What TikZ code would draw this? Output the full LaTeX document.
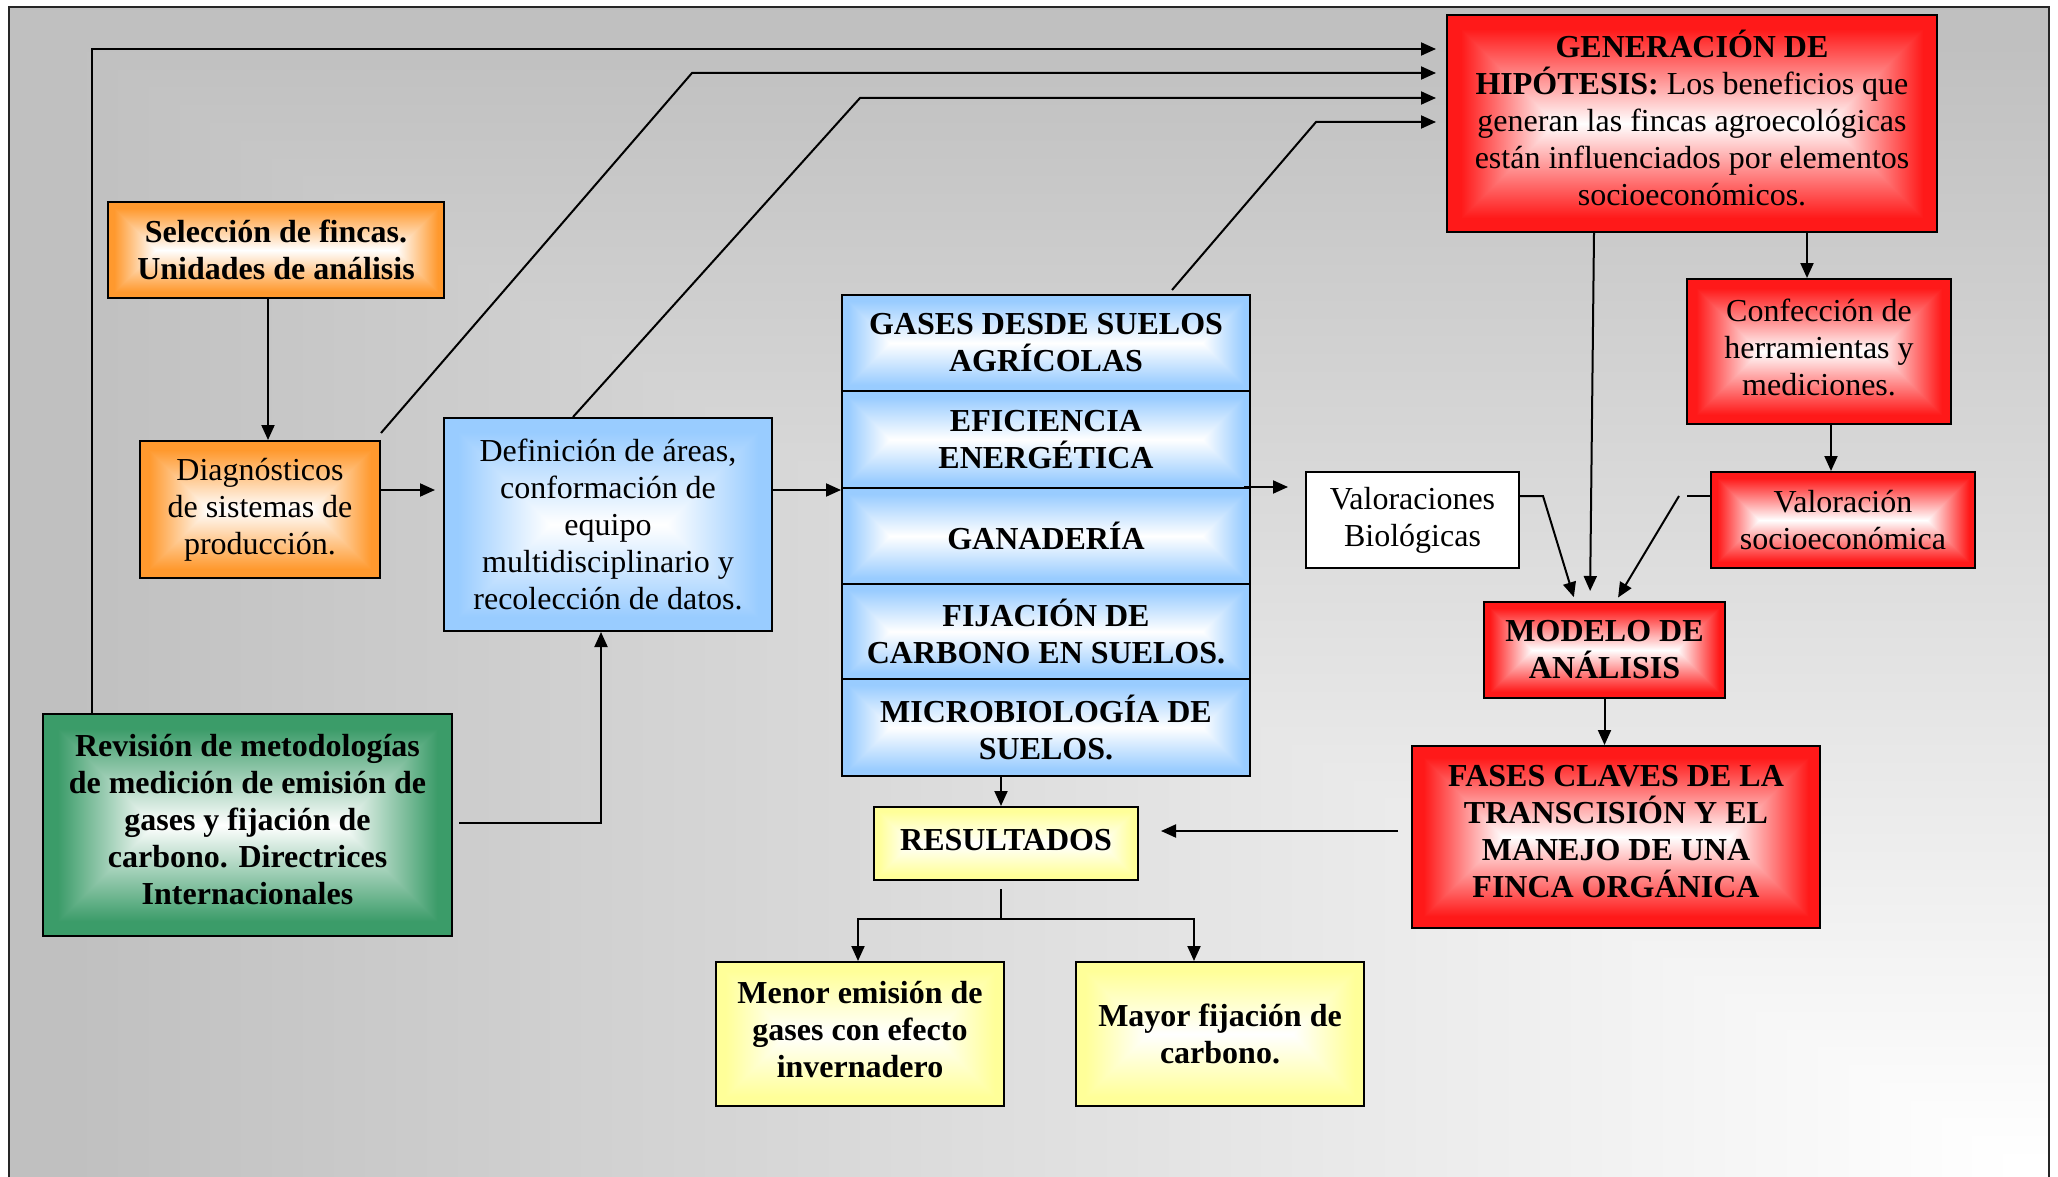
\documentclass[tikz,border=0pt]{standalone}
\usepackage{fontspec}
\setmainfont{Liberation Serif}
\usetikzlibrary{arrows.meta,calc}

% rectangular "from centre" gradient: white centre -> colour at the edges
% #1 name, #2 aspect (w/h), #3..#5 = 1-R, 1-G, 1-B
\newcommand\mkshade[5]{%
  \pgfdeclarefunctionalshading{#1}{\pgfpoint{-50bp}{-50bp}}{\pgfpoint{50bp}{50bp}}{}{%
    25 div abs 1 exch sub exch 25 div abs 1 exch sub #2 mul
    2 copy gt {exch} if pop
    1 exch sub 1.15 mul
    dup 0 lt {pop 0} if dup 1 gt {pop 1} if
    dup #3 mul 1 exch sub
    exch dup #4 mul 1 exch sub
    exch #5 mul 1 exch sub
  }}
\mkshade{shSel}{3.5}{0}{0.4}{0.82}
\mkshade{shDiag}{1.75}{0}{0.4}{0.82}
\mkshade{shDefi}{1.54}{0.4}{0.2}{0}
\mkshade{shRow}{4.25}{0.4}{0.2}{0}
\mkshade{shRes}{3.62}{0}{0}{0.4}
\mkshade{shOut}{2}{0}{0}{0.4}
\mkshade{shRev}{1.84}{0.77}{0.39}{0.59}
\mkshade{shGen}{2.26}{0}{0.9}{0.9}
\mkshade{shConf}{1.82}{0}{0.9}{0.9}
\mkshade{shVals}{2.75}{0}{0.9}{0.9}
\mkshade{shMod}{2.51}{0}{0.9}{0.9}
\mkshade{shFases}{2.24}{0}{0.9}{0.9}

% background: rectangular gradient from the bottom-right corner (white) to grey
\pgfdeclarefunctionalshading{bgshade}{\pgfpoint{-50bp}{-50bp}}{\pgfpoint{50bp}{50bp}}{}{%
  25 div 1 add 2 div exch 25 div 1 exch sub 2 div
  2 copy lt {exch} if pop
  66 mul 256 exch sub 255 div
  dup 0.753 lt {pop 0.753} if dup 1 gt {pop 1} if
  dup dup
}

\tikzset{
  box/.style={draw=black, line width=2pt, inner sep=0pt, align=center,
    font=\fontsize{32}{37}\selectfont},
  bold/.style={font=\fontsize{32}{37}\selectfont\bfseries},
  sh/.style={shade, shading=#1},
  arr/.style={line width=2pt, -{Triangle[length=15pt,width=13pt]}},
  ln/.style={line width=2pt},
}

\begin{document}
\begin{tikzpicture}[x=1pt,y=-1pt]
\useasboundingbox (0,0) rectangle (2058,1177);
\clip (0,0) rectangle (2058,1177);
\fill[white] (0,0) rectangle (2058,1177);
\shade[shading=bgshade] (9,7) rectangle (2049,1180);
\draw[line width=2pt, black!85] (9,1190) -- (9,7) -- (2049,7) -- (2049,1190);

% ---------- nodes ----------
\node[box, sh=shSel, bold, minimum width=336pt, minimum height=96pt] (sel) at (276,250)
  {Selección de fincas.\\Unidades de análisis};
\node[box, sh=shDiag, minimum width=240pt, minimum height=137pt] (diag) at (260,509.5)
  {Diagnósticos\\de sistemas de\\producción.};
\node[box, sh=shDefi, minimum width=328pt, minimum height=213pt] (defi) at (608,524.5)
  {Definición de áreas,\\conformación de\\equipo\\multidisciplinario y\\recolección de datos.};

\node[box, sh=shRow, bold, minimum width=408pt, minimum height=96pt] (r1) at (1046,343)
  {GASES DESDE SUELOS\\AGRÍCOLAS};
\node[box, sh=shRow, bold, minimum width=408pt, minimum height=97pt] (r2) at (1046,439.5)
  {EFICIENCIA\\ENERGÉTICA};
\node[box, sh=shRow, bold, minimum width=408pt, minimum height=96pt] (r3) at (1046,536)
  {GANADERÍA};
\node[box, sh=shRow, bold, minimum width=408pt, minimum height=95pt] (r4) at (1046,631.5)
  {FIJACIÓN DE\\CARBONO EN SUELOS.};
\node[box, sh=shRow, bold, minimum width=408pt, minimum height=97pt] (r5) at (1046,727.5)
  {MICROBIOLOGÍA DE\\SUELOS.};

\node[box, sh=shRes, bold, text depth=8pt, minimum width=264pt, minimum height=73pt] (res) at (1006,843.5)
  {RESULTADOS};
\node[box, sh=shOut, bold, text depth=10pt, minimum width=288pt, minimum height=144pt] (menor) at (860,1034)
  {Menor emisión de\\gases con efecto\\invernadero};
\node[box, sh=shOut, bold, minimum width=288pt, minimum height=144pt] (mayor) at (1220,1034)
  {Mayor fijación de\\carbono.};

\node[box, sh=shRev, bold, text depth=12pt, minimum width=409pt, minimum height=222pt] (rev) at (247.5,825)
  {Revisión de metodologías\\de medición de emisión de\\gases y fijación de\\carbono. Directrices\\Internacionales};

\node[box, sh=shGen, text depth=12pt, minimum width=490pt, minimum height=217pt] (gen) at (1692,123.5)
  {\textbf{GENERACIÓN DE}\\\textbf{HIPÓTESIS:} Los beneficios que\\generan las fincas agroecológicas\\están influenciados por elementos\\socioeconómicos.};
\node[box, sh=shConf, text depth=8pt, minimum width=264pt, minimum height=145pt] (conf) at (1819,351.5)
  {Confección de\\herramientas y\\mediciones.};
\node[box, fill=white, minimum width=213pt, minimum height=96pt] (valb) at (1412.5,520)
  {Valoraciones\\Biológicas};
\node[box, sh=shVals, minimum width=264pt, minimum height=96pt] (vals) at (1843,520)
  {Valoración\\socioeconómica};
\node[box, sh=shMod, bold, minimum width=241pt, minimum height=96pt] (mod) at (1604.5,650)
  {MODELO DE\\ANÁLISIS};
\node[box, sh=shFases, bold, text depth=12pt, minimum width=408pt, minimum height=182pt] (fases) at (1616,837)
  {FASES CLAVES DE LA\\TRANSCISIÓN Y EL\\MANEJO DE UNA\\FINCA ORGÁNICA};

% ---------- connectors ----------
\coordinate (xa) at (268,0);
\draw[arr] (sel.south -| xa) -- (diag.north -| xa);

\coordinate (y490) at (0,490);
\draw[arr, shorten >=8pt] (diag.east |- y490) -- (defi.west |- y490);
\draw[arr] (defi.east |- y490) -- (r3.west |- y490);
\draw[arr, shorten >=17pt] ([xshift=-7pt]r3.north east) -- (valb.west |- r3.north east);

\coordinate (e1) at (92,49);
\draw[arr, shorten >=10pt] (rev.north -| e1) -- (e1) -- (gen.west |- e1);
\coordinate (e2) at (692,73);
\draw[arr, shorten >=10pt] ([yshift=7pt]diag.north east) -- (e2) -- (gen.west |- e2);
\coordinate (e3a) at (573,0);
\coordinate (e3) at (860,98);
\draw[arr, shorten >=10pt] (defi.north -| e3a) -- (e3) -- (gen.west |- e3);
\coordinate (e4a) at (1172,290);
\coordinate (e4) at (1316,122);
\draw[arr, shorten >=10pt] (e4a) -- (e4) -- (gen.west |- e4);

\coordinate (fa) at (1594,0);
\coordinate (fb) at (1590,0);
\draw[arr, shorten >=10pt] (gen.south -| fa) -- (mod.north -| fb);
\coordinate (ga) at (1807,0);
\draw[arr] (gen.south -| ga) -- (conf.north -| ga);
\coordinate (ha) at (1831,0);
\draw[arr] (conf.south -| ha) -- (vals.north -| ha);

\coordinate (ia) at (1543,496);
\coordinate (ib) at (1575,0);
\draw[arr, shorten >=4pt] (valb.east |- ia) -- (ia) -- (mod.north -| ib);
\coordinate (ja) at (1687,496);
\coordinate (jb) at (1679,496);
\coordinate (jc) at (1616,0);
\draw[ln] (vals.west |- ja) -- (ja);
\draw[arr, shorten >=4pt] (jb) -- (mod.north -| jc);

\draw[arr] (mod.south) -- (fases.north -| mod.south);

\coordinate (la) at (0,831);
\draw[arr, shorten <=13pt, shorten >=22pt] (fases.west |- la) -- (res.east |- la);

\coordinate (ma) at (1001,0);
\draw[arr] (r5.south -| ma) -- (res.north -| ma);

\coordinate (split) at (1001,919);
\coordinate (na) at (858,0);
\coordinate (nb) at (1194,0);
\draw[ln, shorten <=8pt] (res.south -| split) -- (split);
\draw[arr] (split) -| (menor.north -| na);
\draw[arr] (split) -| (mayor.north -| nb);

\coordinate (oa) at (601,823);
\draw[arr, shorten <=6pt] (rev.east |- oa) -- (oa) -- (defi.south -| oa);
\end{tikzpicture}
\end{document}
